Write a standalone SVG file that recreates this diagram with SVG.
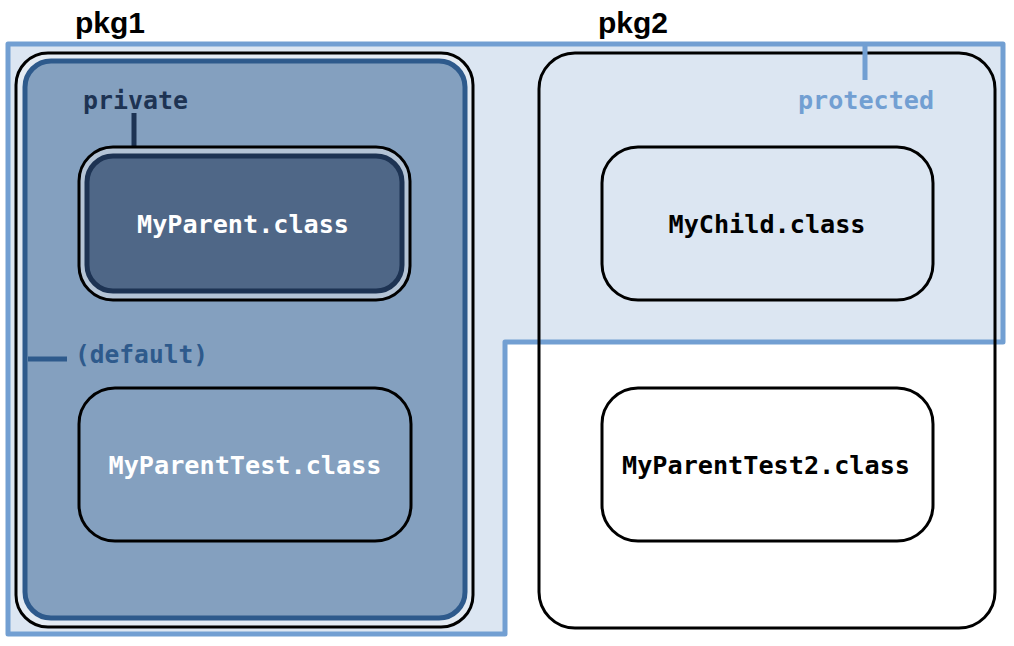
<svg xmlns="http://www.w3.org/2000/svg" width="1014" height="646" viewBox="0 0 1014 646">
<style>
.mono{font-family:"DejaVu Sans Mono","Liberation Mono",monospace;font-weight:bold;font-size:24px}
.pkg{font-family:"Liberation Sans","DejaVu Sans",sans-serif;font-weight:bold;font-size:30px;fill:#000}
.box{fill:none;stroke:#000;stroke-width:3}
</style>
<rect width="1014" height="646" fill="#fff"/>
<g id="protected">
<path d="M8,44 H1003 V342 H505 V634 H8 Z" fill="#dce6f2" stroke="#729fd2" stroke-width="5" stroke-linejoin="round"/>
</g>
<g id="pkg1">
<rect x="16" y="53" width="457" height="574" rx="32" fill="#e4ebf3" stroke="#000" stroke-width="3"/>
<rect x="25" y="61" width="440" height="557" rx="26" fill="#84a0bf" stroke="#2e5a8c" stroke-width="5"/>
</g>
<g id="pkg2">
<rect x="539" y="53" width="456" height="575" rx="36" class="box"/>
</g>
<g id="connectors">
<line x1="134" y1="113" x2="134" y2="157" stroke="#1d3353" stroke-width="5"/>
<line x1="28" y1="359" x2="67" y2="359" stroke="#2e5a8c" stroke-width="5"/>
<line x1="865" y1="44" x2="865" y2="80" stroke="#729fd2" stroke-width="5"/>
</g>
<g id="labels">
<text x="75" y="33" class="pkg">pkg1</text>
<text x="598" y="33" class="pkg">pkg2</text>
<text x="83" y="109" class="mono" fill="#1d3353" textLength="105" lengthAdjust="spacingAndGlyphs">private</text>
<text x="75" y="363" class="mono" fill="#2e5a8c" textLength="133" lengthAdjust="spacingAndGlyphs">(default)</text>
<text x="798" y="109" class="mono" fill="#729fd2" textLength="136" lengthAdjust="spacingAndGlyphs">protected</text>
</g>
<g id="MyParent">
<rect x="79" y="147" width="331" height="153" rx="34" fill="#b4c4d6" stroke="#000" stroke-width="3"/>
<rect x="87" y="156" width="315" height="135" rx="26" fill="#4f6787" stroke="#1d3353" stroke-width="5"/>
<text x="243" y="233" class="mono" fill="#fff" text-anchor="middle" textLength="212" lengthAdjust="spacingAndGlyphs">MyParent.class</text>
</g>
<g id="MyParentTest">
<rect x="79" y="388" width="332" height="153" rx="36" class="box"/>
<text x="245" y="474" class="mono" fill="#fff" text-anchor="middle" textLength="273" lengthAdjust="spacingAndGlyphs">MyParentTest.class</text>
</g>
<g id="MyChild">
<rect x="602" y="147" width="331" height="153" rx="36" class="box"/>
<text x="767" y="233" class="mono" fill="#000" text-anchor="middle" textLength="197" lengthAdjust="spacingAndGlyphs">MyChild.class</text>
</g>
<g id="MyParentTest2">
<rect x="602" y="388" width="331" height="153" rx="36" class="box"/>
<text x="766" y="474" class="mono" fill="#000" text-anchor="middle" textLength="288" lengthAdjust="spacingAndGlyphs">MyParentTest2.class</text>
</g>
</svg>
